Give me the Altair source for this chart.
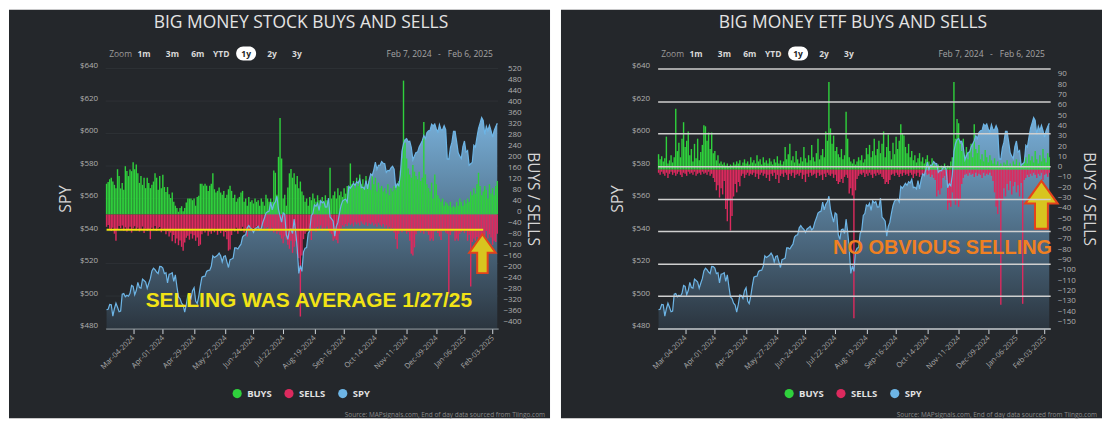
import altair as alt
import pandas as pd

FONT = "Open Sans"
BG = "#24272b"
GREEN = "#2fd13c"
RED = "#dc2a5e"
BLUE = "#6db5e6"

HOLIDAYS = ["2024-02-19", "2024-03-29", "2024-05-27", "2024-06-19", "2024-07-04",
            "2024-09-02", "2024-11-28", "2024-12-25", "2025-01-01", "2025-01-09",
            "2025-01-20"]
dates = [d for d in pd.bdate_range("2024-02-07", "2025-02-06")
         if d.strftime("%Y-%m-%d") not in HOLIDAYS]

TICK_DATES = ["2024-03-04", "2024-04-01", "2024-04-29", "2024-05-27", "2024-06-24",
              "2024-07-22", "2024-08-19", "2024-09-16", "2024-10-14", "2024-11-11",
              "2024-12-09", "2025-01-06", "2025-02-03"]
TICK_LABELS = ["Mar-04-2024", "Apr-01-2024", "Apr-29-2024", "May-27-2024", "Jun-24-2024",
               "Jul-22-2024", "Aug-19-2024", "Sep-16-2024", "Oct-14-2024", "Nov-11-2024",
               "Dec-09-2024", "Jan-06-2025", "Feb-03-2025"]

SPY = [491.7, 491.9, 494.8, 494.6, 487.7, 492.2, 495.6, 493.1, 490.4, 490.8,
       501.1, 501.5, 499.6, 500.5, 499.9, 501.7, 506.5, 505.9, 500.8, 503.4,
       508.4, 505.3, 504.9, 510.4, 509.6, 508.6, 504.8, 507.9, 510.7, 515.5,
       517.2, 516.2, 514.8, 513.8, 518.2, 518.1, 517.2, 513.8, 514.4, 508.1,
       513.4, 513.7, 514.3, 509.1, 513.0, 505.9, 499.5, 498.5, 495.6, 494.5,
       490.2, 494.7, 500.7, 500.4, 498.5, 503.3, 505.1, 497.0, 495.4, 500.0,
       506.3, 511.6, 512.1, 512.2, 515.2, 515.8, 515.9, 518.3, 524.8, 523.7,
       524.4, 525.1, 526.4, 524.8, 521.0, 524.4, 524.8, 521.1, 517.6, 522.4,
       522.8, 523.4, 529.6, 529.6, 529.0, 530.6, 531.9, 536.3, 537.4, 537.7,
       542.0, 543.4, 541.9, 541.0, 539.2, 541.3, 542.0, 542.9, 540.7, 541.8,
       545.5, 548.0, 551.1, 551.8, 552.3, 557.8, 553.0, 556.5, 558.0, 561.4,
       553.4, 549.2, 545.5, 551.2, 550.3, 537.7, 534.9, 540.9, 541.3, 538.5,
       547.3, 539.5, 529.4, 513.9, 518.7, 515.2, 527.2, 529.5, 529.8, 538.5,
       540.3, 549.6, 550.8, 556.1, 555.2, 557.1, 552.7, 558.6, 557.3, 558.1,
       554.8, 554.9, 560.2, 548.6, 547.5, 546.1, 536.9, 542.9, 545.3, 550.9,
       555.6, 558.5, 559.3, 559.6, 557.9, 567.5, 566.4, 567.8, 569.4, 568.1,
       570.4, 569.6, 571.9, 566.7, 567.0, 565.9, 571.1, 565.9, 571.3, 575.2,
       574.2, 577.7, 582.4, 577.9, 580.4, 580.5, 582.7, 581.7, 581.4, 576.1,
       577.3, 577.1, 578.9, 579.9, 578.1, 566.7, 569.1, 567.9, 574.8, 589.1,
       593.7, 596.3, 596.9, 595.0, 595.3, 591.4, 583.8, 586.2, 588.4, 588.6,
       591.7, 593.6, 595.6, 598.7, 596.9, 600.6, 601.7, 602.0, 605.7, 604.7,
       605.9, 602.8, 600.9, 605.5, 602.4, 602.3, 604.9, 602.4, 584.4, 584.2,
       591.2, 594.7, 601.3, 601.3, 595.0, 588.2, 586.1, 584.6, 592.0, 595.4,
       588.6, 589.5, 580.5, 581.4, 582.2, 592.8, 591.6, 597.6, 603.1, 606.4,
       609.8, 608.0, 599.4, 604.5, 601.8, 605.0, 601.8, 597.8, 601.8, 604.2,
       606.3]

STOCK_BUYS = [112, 118, 128, 134, 120, 108, 96, 165, 140, 95,
              115, 90, 176, 158, 140, 164, 158, 190, 165, 182,
              150, 115, 140, 108, 134, 96, 134, 115, 96, 108,
              120, 150, 134, 90, 140, 96, 145, 100, 82, 100,
              74, 60, 80, 46, 32, 24, 10, 24, 30, 12,
              24, 44, 58, 58, 58, 52, 58, 32, 64, 68,
              112, 112, 105, 112, 105, 86, 105, 112, 150, 92,
              80, 86, 98, 80, 72, 86, 60, 72, 92, 105,
              86, 60, 72, 46, 58, 64, 80, 86, 46, 58,
              32, 64, 46, 52, 40, 58, 46, 52, 32, 58,
              46, 32, 72, 58, 46, 58, 46, 160, 152, 72,
              210, 352, 204, 58, 72, 32, 98, 150, 166, 134,
              150, 110, 140, 96, 120, 84, 70, 46, 58, 32,
              64, 52, 76, 58, 46, 70, 52, 32, 64, 46,
              70, 52, 40, 170, 58, 70, 84, 58, 96, 70,
              84, 64, 96, 76, 104, 84, 186, 110, 122, 96,
              134, 104, 146, 110, 128, 96, 140, 110, 122, 90,
              140, 110, 134, 84, 116, 96, 104, 84, 96, 76,
              110, 70, 96, 84, 104, 90, 110, 122, 160, 204,
              488, 262, 204, 168, 146, 134, 180, 156, 140, 128,
              156, 122, 134, 337, 146, 110, 96, 84, 116, 58,
              146, 110, 70, 58, 46, 58, 32, 46, 40, 32,
              46, 26, 32, 26, 46, 32, 58, 46, 32, 52,
              40, 58, 46, 84, 70, 96, 76, 110, 152, 104,
              70, 84, 104, 90, 58, 110, 76, 96, 70, 104,
              122]

STOCK_SELLS = [-45, -38, -52, -60, -48, -70, -96, -55, -42, -50,
               -40, -58, -47, -62, -53, -45, -66, -50, -43, -58,
               -48, -62, -55, -44, -68, -52, -60, -57, -90, -48,
               -55, -42, -60, -50, -46, -65, -52, -58, -72, -61,
               -80, -66, -98, -75, -105, -88, -112, -95, -118, -132,
               -102, -85, -78, -92, -70, -88, -76, -96, -84, -115,
               -110, -72, -58, -66, -54, -78, -62, -70, -58, -65,
               -52, -74, -60, -68, -56, -80, -64, -90, -132, -128,
               -75, -56, -62, -48, -70, -55, -60, -45, -66, -52,
               -80, -58, -46, -62, -50, -55, -44, -60, -48, -53,
               -42, -58, -50, -46, -62, -54, -48, -66, -57, -70,
               -62, -75, -88, -105, -80, -92, -110, -125, -96, -140,
               -118, -98, -143, -160, -372, -150, -90, -70, -62, -55,
               -48, -93, -58, -50, -62, -45, -54, -40, -58, -48,
               -52, -44, -60, -66, -72, -96, -88, -93, -105, -70,
               -52, -40, -46, -35, -42, -30, -38, -33, -44, -28,
               -36, -30, -40, -26, -34, -38, -28, -42, -32, -36,
               -29, -40, -34, -45, -30, -38, -44, -35, -48, -40,
               -52, -45, -60, -50, -66, -90, -125, -70, -58, -65,
               -52, -60, -70, -64, -96, -143, -150, -120, -72, -60,
               -55, -66, -58, -70, -52, -62, -74, -96, -88, -96,
               -62, -55, -68, -80, -93, -60, -54, -66, -70, -289,
               -75, -62, -58, -96, -88, -96, -70, -64, -55, -68,
               -60, -96, -74, -263, -100, -88, -96, -82, -100, -93,
               -96, -70, -78, -60, -88, -72, -84, -111, -96, -100,
               -70]

ETF_BUYS = [15, 10, 13, 8, 11, 32, 6, 9, 14, 7,
            12, 59, 18, 26, 12, 30, 46, 22, 28, 37,
            14, 20, 8, 25, 11, 30, 9, 17, 24, 43,
            42, 28, 36, 20, 36, 16, 18, 9, 14, 6,
            8, 5, 7, 4, 6, 3, 5, 4, 7, 5,
            8, 6, 9, 4, 7, 10, 6, 8, 5, 12,
            7, 9, 6, 14, 8, 10, 5, 12, 7, 9,
            6, 11, 8, 5, 10, 7, 13, 6, 9, 5,
            8, 22, 10, 15, 25, 9, 13, 7, 18, 10,
            6, 12, 8, 22, 11, 7, 14, 9, 24, 12,
            8, 16, 30, 10, 14, 20, 12, 37, 28, 85,
            40, 25, 33, 18, 22, 15, 12, 20, 10, 14,
            56, 30, 12, 8, 6, 10, 5, 8, 12, 9,
            14, 7, 10, 21, 15, 24, 12, 18, 30, 14,
            20, 28, 16, 25, 37, 12, 22, 34, 18, 10,
            26, 15, 32, 20, 28, 44, 35, 33, 22, 16,
            25, 12, 18, 9, 14, 7, 11, 16, 8, 12,
            6, 10, 14, 8, 5, 11, 7, 4, 3, 5,
            2, 4, 3, 6, 2, 4, 3, 8, 12, 85,
            30, 49, 45, 25, 18, 30, 14, 22, 10, 18,
            25, 12, 44, 20, 16, 24, 10, 15, 8, 19,
            12, 7, 14, 9, 6, 11, 5, 8, 4, 6,
            3, 7, 5, 9, 4, 6, 3, 8, 5, 10,
            4, 7, 3, 5, 8, 12, 6, 15, 9, 13,
            7, 18, 10, 6, 14, 8, 20, 11, 7, 16,
            12]

ETF_SELLS = [-3, -5, -2, -4, -6, -3, -8, -4, -2, -5,
             -3, -6, -4, -2, -5, -7, -3, -4, -6, -2,
             -4, -3, -5, -2, -6, -4, -3, -5, -2, -4,
             -3, -5, -2, -6, -4, -8, -12, -20, -15, -27,
             -18, -24, -11, -38, -50, -30, -59, -45, -26, -14,
             -22, -12, -16, -6, -4, -8, -5, -3, -6, -4,
             -5, -3, -7, -4, -9, -5, -3, -6, -4, -8,
             -5, -11, -4, -6, -3, -9, -5, -13, -6, -4,
             -7, -3, -5, -10, -4, -6, -3, -8, -5, -4,
             -6, -3, -9, -5, -12, -4, -7, -3, -6, -5,
             -4, -8, -3, -6, -5, -10, -4, -7, -3, -5,
             -6, -4, -8, -5, -11, -14, -12, -9, -13, -7,
             -5, -8, -23, -18, -25, -144, -20, -9, -6, -4,
             -5, -3, -7, -4, -6, -3, -5, -8, -4, -6,
             -3, -5, -4, -7, -9, -14, -12, -14, -10, -5,
             -4, -6, -3, -5, -7, -4, -6, -3, -5, -4,
             -6, -3, -5, -8, -4, -6, -3, -7, -5, -4,
             -6, -3, -5, -4, -7, -5, -8, -10, -26, -20,
             -24, -18, -8, -6, -10, -39, -32, -36, -22, -30,
             -34, -28, -36, -30, -14, -8, -5, -4, -6, -3,
             -5, -4, -7, -3, -6, -4, -5, -8, -3, -6,
             -4, -5, -3, -6, -11, -22, -36, -43, -28, -131,
             -30, -18, -26, -14, -20, -11, -24, -16, -12, -22,
             -15, -26, -13, -130, -10, -8, -5, -7, -4, -6,
             -3, -5, -8, -4, -6, -3, -10, -5, -4, -7,
             -3]

SPY_TICKS = [480, 500, 520, 540, 560, 580, 600, 620, 640]
STOCK_TICKS = list(range(-400, 521, 40))
ETF_TICKS = list(range(-150, 91, 10))

# annotation values (data coordinates)
AVG_SELL = {"a": 0, "b": 241, "v": -56}
STOCK_ARROW = {"i": 240.5, "v": -143}
ETF_ARROW = {"i": 245, "v": -34}

W, H = 394, 261
ONE = alt.Data(values=[{"k": 1}])

tick_pos = [next(k for k, d in enumerate(dates) if d >= pd.Timestamp(t)) for t in TICK_DATES]
LABEL_EXPR = ("[" + ",".join("'%s'" % s for s in TICK_LABELS) + "][indexof(["
              + ",".join(str(p) for p in tick_pos) + "], datum.value)]")

ARROW = "M0,-1 L0.68,-0.05 L0.27,-0.05 L0.27,1 L-0.27,1 L-0.27,-0.05 L-0.68,-0.05 Z"

GRAD = alt.Gradient(gradient="linear",
                    stops=[alt.GradientStop(color="#78afd8", offset=0),
                           alt.GradientStop(color="#2b353f", offset=1)],
                    x1=1, x2=1, y1=0, y2=1)

XAXIS = alt.Axis(values=tick_pos, labelExpr=LABEL_EXPR, labelAngle=-45, labelAlign="right",
                 labelBaseline="middle", labelFontSize=7.5, labelColor="#a9a9a9",
                 labelFont=FONT, labelPadding=3, labelFlush=False, labelOverlap=False,
                 labelBound=False, labelSeparation=0,
                 tickColor="#cfd5da", tickSize=5, domainColor="#9aa5ae", grid=False,
                 title=None, zindex=1)


def dtext(text, x, y, size, color, weight="normal", align="center", font=FONT):
    return alt.Chart(ONE).mark_text(text=text, fontSize=size, color=color, fontWeight=weight,
                                    align=align, baseline="middle", font=font
                                    ).encode(x=alt.value(x), y=alt.value(y))


def panel(title, buys, sells, bar_dom, bar_ticks, r_align, r_pad, r_tpad,
          grid_color, grid_width, grid_front, note, note_color, note_xy, note_size,
          arrow, arrow_size, avg=None):
    df = pd.DataFrame({"i": list(range(len(dates))), "spy": SPY})
    bars = pd.DataFrame({
        "i": list(range(len(dates))) * 2,
        "v": list(buys) + list(sells),
        "series": ["BUYS"] * len(buys) + ["SELLS"] * len(sells),
    })
    xs = alt.Scale(domain=[-0.6, len(dates) - 0.4], nice=False, zero=False)
    spy_scale = alt.Scale(domain=[480, 640], nice=False, zero=False)
    bar_scale = alt.Scale(domain=bar_dom, nice=False, zero=False)

    laxis = alt.Axis(orient="left", values=SPY_TICKS, labelExpr="'$' + datum.value",
                     labelColor="#b0b0b0", labelFontSize=8, labelFont=FONT, labelPadding=8,
                     labelOffset=-3, labelOverlap=False, ticks=False, domain=False,
                     grid=grid_front, gridColor=grid_color, gridWidth=grid_width, zindex=1,
                     title="SPY", titleColor="#d6d6d6", titleFontSize=16,
                     titleFontWeight="normal", titleFont=FONT, titlePadding=6)
    raxis = alt.Axis(orient="right", values=bar_ticks, labelColor="#b0b0b0", labelFontSize=8,
                     labelFont=FONT, labelAlign=r_align, labelPadding=r_pad, labelOffset=-3,
                     labelOverlap=False, ticks=False, domain=False, grid=False, zindex=1,
                     title="BUYS / SELLS", titleColor="#d6d6d6", titleFontSize=15.5,
                     titleFontWeight="normal", titleFont=FONT, titlePadding=r_tpad)

    def X(field):
        return alt.X(field, scale=xs, axis=XAXIS, title=None)

    bg = alt.Chart(ONE).mark_rect(color=BG).encode(
        x=alt.value(-97), x2=alt.value(446), y=alt.value(-59), y2=alt.value(351))

    layers = [bg]
    if not grid_front:
        layers.append(alt.Chart(pd.DataFrame({"t": SPY_TICKS})).mark_rule(
            color=grid_color, strokeWidth=grid_width).encode(
            y=alt.Y("t:Q", scale=spy_scale, axis=None)))

    area = alt.Chart(df).mark_area(color=GRAD, line=False).encode(
        x=X("i:Q"),
        y=alt.Y("spy:Q", scale=spy_scale, axis=laxis),
        y2=alt.datum(480))

    bar = alt.Chart(bars).mark_rect().transform_calculate(
        x0="datum.i - 0.45", x1="datum.i + 0.45"
    ).encode(
        x=X("x0:Q"),
        x2="x1:Q",
        y=alt.Y("v:Q", scale=bar_scale, axis=raxis),
        y2=alt.datum(0),
        color=alt.Color("series:N",
                        scale=alt.Scale(domain=["BUYS", "SELLS", "SPY"], range=[GREEN, RED, BLUE]),
                        legend=alt.Legend(orient="none", legendX=127, legendY=321,
                                          direction="horizontal", title=None,
                                          symbolType="circle", symbolSize=85,
                                          symbolStrokeWidth=0, labelColor="#e2e2e2",
                                          labelFontSize=9.5, labelFontWeight="bold",
                                          labelFont=FONT, columnPadding=12, labelOffset=5,
                                          padding=0, zindex=2)))

    line = alt.Chart(df).mark_line(color=BLUE, strokeWidth=1.2).encode(
        x=X("i:Q"),
        y=alt.Y("spy:Q", scale=spy_scale, axis=None))

    layers += [area, bar, line]

    if avg is not None:
        layers.append(alt.Chart(alt.Data(values=[avg])).mark_rule(color="#f2e40f", strokeWidth=2).encode(
            x=X("a:Q"), x2="b:Q",
            y=alt.Y("v:Q", scale=bar_scale, axis=None)))

    layers.append(alt.Chart(alt.Data(values=[arrow])).mark_point(
        shape=ARROW, size=arrow_size, filled=True, fill="#d8c51f", stroke="#e4421b",
        strokeWidth=2, opacity=1, fillOpacity=1, strokeOpacity=1).encode(
        x=X("i:Q"),
        y=alt.Y("v:Q", scale=bar_scale, axis=None)))

    layers.append(dtext(note, note_xy[0], note_xy[1], note_size, note_color, weight="bold",
                        font="Liberation Sans"))

    # header / footer texts
    layers += [
        dtext(title, 196, -46, 17.5, "#e4e4e4"),
        dtext("Zoom", 15, -15, 8.5, "#9a9a9a"),
        dtext("1m", 38.5, -15, 8.5, "#d9d9d9", "bold"),
        dtext("3m", 67, -15, 8.5, "#d9d9d9", "bold"),
        dtext("6m", 92.5, -15, 8.5, "#d9d9d9", "bold"),
        dtext("YTD", 116, -15, 8.5, "#d9d9d9", "bold"),
        alt.Chart(ONE).mark_rect(color="#ffffff", cornerRadius=7).encode(
            x=alt.value(131), x2=alt.value(151), y=alt.value(-22), y2=alt.value(-8)),
        dtext("1y", 141, -15, 8.5, "#222222", "bold"),
        dtext("2y", 167, -15, 8.5, "#d9d9d9", "bold"),
        dtext("3y", 192, -15, 8.5, "#d9d9d9", "bold"),
        dtext("Feb 7, 2024", 304.5, -15, 8.5, "#a5a5a5"),
        dtext("-", 335, -15, 8.5, "#a5a5a5"),
        dtext("Feb 6, 2025", 366, -15, 8.5, "#a5a5a5"),
        dtext("Source: MAPsignals.com, End of day data sourced from Tiingo.com", 441, 348,
              6.5, "#8a8a8a", align="right"),
    ]

    return alt.layer(*layers).resolve_scale(y="independent").properties(width=W, height=H)


left = panel("BIG MONEY STOCK BUYS AND SELLS", STOCK_BUYS, STOCK_SELLS, [-416, 532], STOCK_TICKS,
             "right", 23, 3, "#2d3135", 1, False, "SELLING WAS AVERAGE 1/27/25", "#f2e315",
             (204, 233), 21, STOCK_ARROW, 1521, avg=AVG_SELL)
right = panel("BIG MONEY ETF BUYS AND SELLS", ETF_BUYS, ETF_SELLS, [-154, 98], ETF_TICKS,
              "left", 7, 5, "#cfcfcf", 1.5, True, "NO OBVIOUS SELLING", "#f08022",
              (286, 180), 20, ETF_ARROW, 2304)

chart = alt.hconcat(left, right, spacing=9).resolve_scale(
    color="independent"
).resolve_legend(color="independent").properties(
    padding=0, background="white"
).configure_view(stroke=None).configure_axis(labelOverlap=False).configure(font=FONT)

chart.save("out.html", embed_options={"renderer": "svg", "actions": False})
